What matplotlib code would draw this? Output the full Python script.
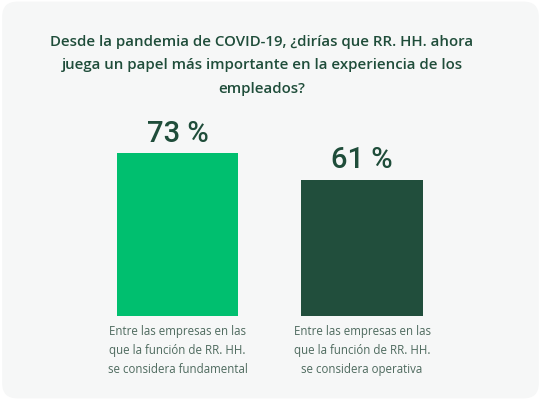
import matplotlib
matplotlib.use("Agg")
import matplotlib.pyplot as plt
from matplotlib.patches import FancyBboxPatch

TITLE = ("Desde la pandemia de COVID-19, ¿dirías que RR. HH. ahora\n"
         "juega un papel más importante en la experiencia de los\n"
         "empleados?")
categories = [
    "Entre las empresas en las\nque la función de RR. HH.\nse considera fundamental",
    "Entre las empresas en las\nque la función de RR. HH.\nse considera operativa",
]
values = [73, 61]
bar_colors = ["#00bf6f", "#214e3c"]

DARK = "#1f4d3a"
GREY = "#4e6a5e"
CARD = "#f6f7f7"


def main():
    fig = plt.figure(figsize=(5.41, 4.0), dpi=100)
    fig.patch.set_facecolor("white")

    # rounded card behind everything
    card = FancyBboxPatch((0.004, 0.004), 0.992, 0.992,
                          boxstyle="round,pad=0,rounding_size=0.028",
                          transform=fig.transFigure, facecolor=CARD,
                          edgecolor="none", zorder=-5,
                          mutation_aspect=541 / 400)
    fig.patches.append(card)

    fig.text(262 / 541, 1 - 35 / 400, TITLE, ha="center", va="top",
             color=DARK, fontsize=10.8, fontweight="semibold",
             family="Open Sans", linespacing=1.85)

    ax = fig.add_axes([85.25 / 541, 84 / 400, 369 / 541, 223 / 400])
    ax.set_facecolor("none")
    x = list(range(len(values)))
    ax.bar(x, values, width=0.656, color=bar_colors)
    ax.set_xlim(-0.5, 1.5)
    ax.set_ylim(0, 100)
    ax.axis("off")

    for xi, v in zip(x, values):
        ax.annotate(f"{v} %", (xi, v), xytext=(0, 4),
                    textcoords="offset points", ha="center", va="bottom",
                    color=DARK, fontsize=21, fontweight="medium",
                    family="Roboto")

    for xi, lab in zip(x, categories):
        ax.annotate(lab, (xi, 0), xytext=(0, -6.5),
                    textcoords="offset points", ha="center", va="top",
                    color=GREY, fontsize=8.3, family="Open Sans",
                    linespacing=1.6)

    fig.savefig("out.png", dpi=100, facecolor=fig.get_facecolor())


if __name__ == "__main__":
    main()
